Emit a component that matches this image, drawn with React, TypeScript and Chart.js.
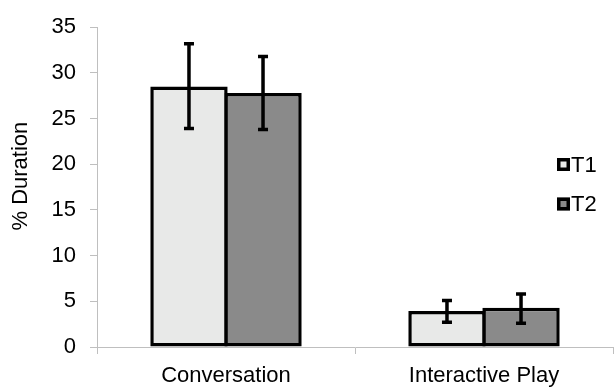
import React, { useEffect, useRef } from "react";
import { Chart, registerables } from "chart.js";

Chart.register(...registerables);

const categories = ["Conversation", "Interactive Play"];
const seriesNames = ["T1", "T2"];
const t1Values = [28.5, 3.95];
const t2Values = [27.8, 4.3];
const t1ErrHigh = [33.2, 5.1];
const t1ErrLow = [23.9, 2.7];
const t2ErrHigh = [31.8, 5.8];
const t2ErrLow = [23.8, 2.6];
const yTicks = { min: 0, max: 35, step: 5 };
const yTitle = "% Duration";

const FONT = "'Liberation Sans', Arial, sans-serif";
const colors = ["#e8e9e8", "#8a8a8a"];

const errorBarPlugin = {
  id: "errorBars",
  afterDatasetsDraw(chart: any) {
    const ctx = chart.ctx;
    const yScale = chart.scales.y;
    const highs = [t1ErrHigh, t2ErrHigh];
    const lows = [t1ErrLow, t2ErrLow];
    ctx.save();
    ctx.strokeStyle = "#000";
    ctx.lineWidth = 3.5;
    chart.data.datasets.forEach((_ds: any, di: number) => {
      const meta = chart.getDatasetMeta(di);
      meta.data.forEach((el: any, i: number) => {
        const x = el.x;
        const yh = yScale.getPixelForValue(highs[di][i]);
        const yl = yScale.getPixelForValue(lows[di][i]);
        const cap = 5;
        ctx.beginPath();
        ctx.moveTo(x, yh);
        ctx.lineTo(x, yl);
        ctx.moveTo(x - cap, yh);
        ctx.lineTo(x + cap, yh);
        ctx.moveTo(x - cap, yl);
        ctx.lineTo(x + cap, yl);
        ctx.stroke();
      });
    });
    ctx.restore();
  },
};

const extrasPlugin = {
  id: "extras",
  afterDraw(chart: any) {
    const ctx = chart.ctx;
    const area = chart.chartArea;
    ctx.save();
    ctx.font = `22px ${FONT}`;
    ctx.fillStyle = "#000";
    ctx.textAlign = "center";
    ctx.textBaseline = "alphabetic";
    ctx.translate(27, (area.top + area.bottom) / 2 - 11);
    ctx.rotate(-Math.PI / 2);
    ctx.fillText(yTitle, 0, 0);
    ctx.restore();

    ctx.save();
    const boxX = 557;
    const ys = [164.5, 204];
    seriesNames.forEach((name, i) => {
      const y = ys[i];
      ctx.fillStyle = colors[i];
      ctx.fillRect(boxX, y - 6.5, 13, 13);
      ctx.strokeStyle = "#000";
      ctx.lineWidth = 3.5;
      ctx.strokeRect(boxX + 1.75, y - 4.75, 9.5, 9.5);
      ctx.fillStyle = "#000";
      ctx.font = `22px ${FONT}`;
      ctx.textAlign = "left";
      ctx.textBaseline = "middle";
      ctx.fillText(name, boxX + 14, y + 1);
    });
    ctx.restore();
  },
};

export default function App() {
  const ref = useRef<HTMLCanvasElement>(null);
  useEffect(() => {
    if (!ref.current) return;
    const mk = (i: number, data: number[]) => ({
      label: seriesNames[i],
      data,
      backgroundColor: colors[i],
      borderColor: "#000",
      borderWidth: 3.5,
      borderSkipped: false as const,
      barPercentage: 1.045,
      categoryPercentage: 0.574,
    });
    const chart = new Chart(ref.current, {
      type: "bar",
      data: {
        labels: categories,
        datasets: [mk(0, t1Values), mk(1, t2Values)],
      },
      options: {
        animation: false,
        responsive: false,
        layout: { padding: { top: 18, right: 1, left: 0, bottom: 0 } },
        plugins: {
          legend: { display: false },
          tooltip: { enabled: false },
        },
        scales: {
          x: {
            grid: {
              offset: true,
              drawOnChartArea: false,
              drawTicks: true,
              tickLength: 7,
              color: "#bfbfbf",
            },
            border: { color: "#bfbfbf", width: 1 },
            ticks: {
              color: "#000",
              font: { family: FONT, size: 22 },
              padding: 9,
              maxRotation: 0,
            },
            afterFit: (scale: any) => {
              scale.height = 42;
            },
          },
          y: {
            min: yTicks.min,
            max: yTicks.max,
            grid: {
              drawOnChartArea: false,
              drawTicks: true,
              tickLength: 7,
              color: "#bfbfbf",
            },
            border: { color: "#bfbfbf", width: 1 },
            ticks: {
              stepSize: yTicks.step,
              color: "#000",
              font: { family: FONT, size: 22 },
              padding: 14,
            },
            afterFit: (scale: any) => {
              scale.width = 97;
            },
          },
        },
      },
      plugins: [errorBarPlugin, extrasPlugin],
    });
    return () => chart.destroy();
  }, []);
  return (
    <div style={{ position: "absolute", left: 0, top: 0, width: 614, height: 389, background: "#fff" }}>
      <canvas ref={ref} width={614} height={389} />
    </div>
  );
}
